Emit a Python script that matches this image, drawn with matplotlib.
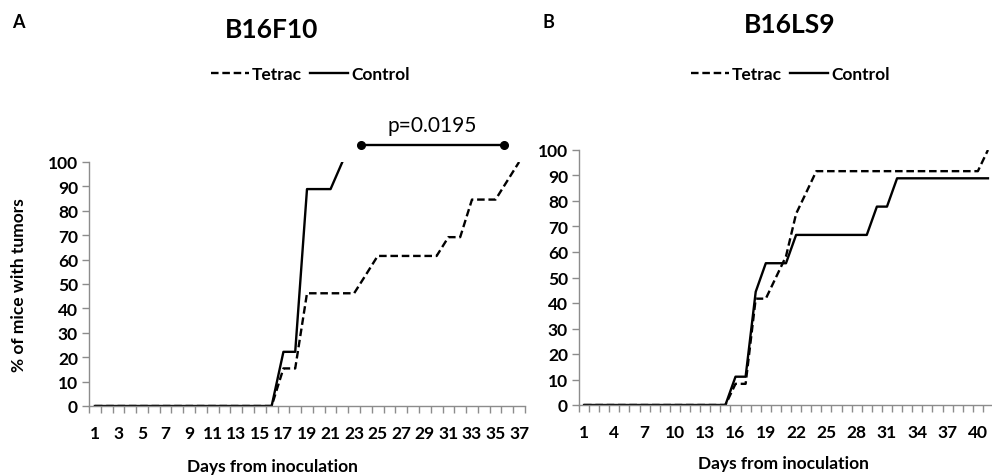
import matplotlib.pyplot as plt
import numpy as np
from matplotlib.lines import Line2D
from matplotlib.ticker import FixedLocator, NullFormatter, FixedFormatter

plt.rcParams["font.family"] = ["Lato", "DejaVu Sans"]
plt.rcParams["font.weight"] = "bold"

# --- data: panel A (B16F10) ---
days_a = np.arange(1, 38)
tetrac_a = [0, 0, 0, 0, 0, 0, 0, 0, 0, 0, 0, 0, 0, 0, 0, 0,
            15.4, 15.4, 46.2, 46.2, 46.2, 46.2, 46.2, 53.8, 61.5, 61.5,
            61.5, 61.5, 61.5, 61.5, 69.2, 69.2, 84.6, 84.6, 84.6, 92.3, 100]
days_control_a = np.arange(1, 23)
control_a = [0, 0, 0, 0, 0, 0, 0, 0, 0, 0, 0, 0, 0, 0, 0, 0,
             22.2, 22.2, 88.9, 88.9, 88.9, 100]
ticks_a = list(range(1, 38, 2))
p_span_a = (23.6, 35.7)
p_text_a = "p=0.0195"

# --- data: panel B (B16LS9) ---
days_b = np.arange(1, 42)
tetrac_b = [0, 0, 0, 0, 0, 0, 0, 0, 0, 0, 0, 0, 0, 0, 0,
            8.3, 8.3, 41.7, 41.7, 50.0, 58.3, 75.0, 83.3,
            91.7, 91.7, 91.7, 91.7, 91.7, 91.7, 91.7, 91.7, 91.7,
            91.7, 91.7, 91.7, 91.7, 91.7, 91.7, 91.7, 91.7, 100]
control_b = [0, 0, 0, 0, 0, 0, 0, 0, 0, 0, 0, 0, 0, 0, 0,
             11.1, 11.1, 44.4, 55.6, 55.6, 55.6,
             66.7, 66.7, 66.7, 66.7, 66.7, 66.7, 66.7, 66.7,
             77.8, 77.8,
             88.9, 88.9, 88.9, 88.9, 88.9, 88.9, 88.9, 88.9, 88.9, 88.9]
ticks_b = list(range(1, 42, 3))

W, H = 992, 477
AXIS_GRAY = "#8c8c8c"
DASH = (0, (3.2, 1.6))
TICK_FS = 12.5


def px_axes(fig, left, right, bottom, top):
    """Add axes from pixel edges (top-left origin)."""
    return fig.add_axes([left / W, (H - bottom) / H, (right - left) / W, (bottom - top) / H])


def style_axis(ax, n_days, label_ticks):
    ax.set_xlim(0.5, n_days + 0.5)
    ax.set_ylim(0, 100)
    ax.set_yticks(range(0, 101, 10))
    for side in ("top", "right"):
        ax.spines[side].set_visible(False)
    for side in ("left", "bottom"):
        ax.spines[side].set_color(AXIS_GRAY)
        ax.spines[side].set_linewidth(1.0)
    # tick marks between categories, labels at category centres
    ax.xaxis.set_major_locator(FixedLocator(np.arange(0.5, n_days + 1, 1)))
    ax.xaxis.set_major_formatter(NullFormatter())
    ax.xaxis.set_minor_locator(FixedLocator(label_ticks))
    ax.xaxis.set_minor_formatter(FixedFormatter([str(t) for t in label_ticks]))
    ax.tick_params(axis="x", which="major", direction="out", length=5, color=AXIS_GRAY, width=1)
    ax.tick_params(axis="x", which="minor", length=0, pad=14, labelsize=TICK_FS)
    ax.tick_params(axis="y", direction="out", length=5, color=AXIS_GRAY, width=1,
                   labelsize=TICK_FS, pad=3)
    for lab in ax.get_xticklabels(minor=True) + ax.get_yticklabels():
        lab.set_fontweight("bold")


fig = plt.figure(figsize=(W / 100, H / 100), dpi=100)

# panel A
ax_a = px_axes(fig, 89, 525, 407, 163)
ax_a.plot(days_a, tetrac_a, color="black", lw=1.7, ls=DASH)
ax_a.plot(days_control_a, control_a, color="black", lw=1.7)
style_axis(ax_a, len(days_a), ticks_a)
ax_a.set_ylabel("% of mice with tumors", fontsize=12.5, fontweight="bold")
ax_a.yaxis.set_label_coords((27 - 89) / 436, 0.5)
ax_a.plot(p_span_a, [107, 107], color="black", lw=1.7, marker="o", ms=5.5, clip_on=False)
ax_a.text(np.mean(p_span_a), 111, p_text_a, ha="center", va="bottom",
          fontsize=15, fontweight="normal", clip_on=False)

# panel B
ax_b = px_axes(fig, 579, 993, 406, 151)
ax_b.plot(days_b, tetrac_b, color="black", lw=1.7, ls=DASH)
ax_b.plot(days_b, control_b, color="black", lw=1.7)
style_axis(ax_b, len(days_b), ticks_b)

# axis titles placed like the original (panel A title sits left of centre)
for x_c, y_c in ((272, 467), (783, 464)):
    fig.text(x_c / W, 1 - y_c / H, "Days from inoculation", ha="center", va="center",
             fontsize=12.5, fontweight="bold")

handles = [Line2D([], [], color="black", lw=1.7, ls=DASH),
           Line2D([], [], color="black", lw=1.7)]
panels = [(272, 30, "B16F10", 18, "A", 310), (790, 25, "B16LS9", 548, "B", 790)]
for x_c, y_t, title, letter_x, letter, leg_x in panels:
    fig.text(x_c / W, 1 - y_t / H, title, ha="center", va="center",
             fontsize=19, fontweight="bold")
    fig.text(letter_x / W, 1 - 22 / H, letter,
             ha="center", va="center", fontsize=13, fontweight="bold")
    fig.legend(handles, ["Tetrac", "Control"], loc="center",
               bbox_to_anchor=(leg_x / W, 1 - 75 / H), ncol=2, frameon=False,
               handlelength=2.2, handletextpad=0.15, columnspacing=0.5,
               prop={"size": 12.5, "weight": "bold"})

fig.savefig("out.png", dpi=100)
